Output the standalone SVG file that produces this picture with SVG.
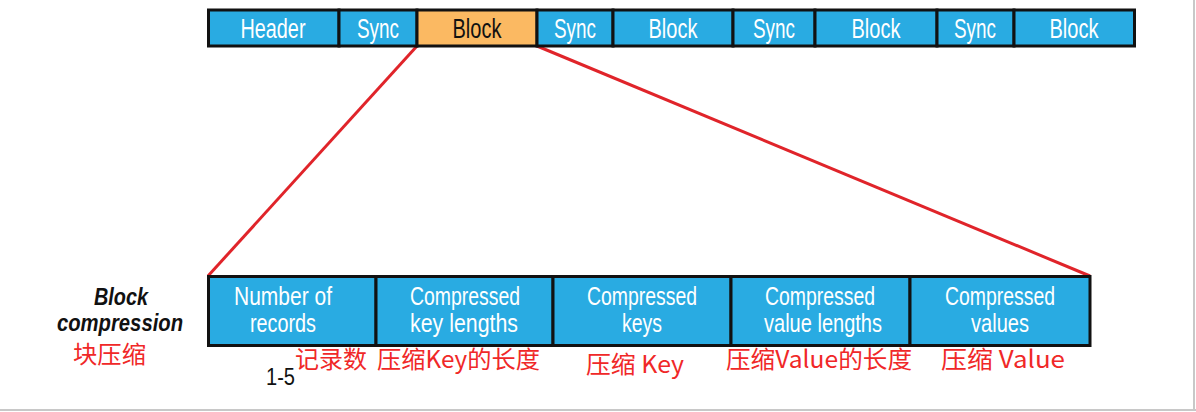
<svg xmlns="http://www.w3.org/2000/svg" width="1196" height="412" viewBox="0 0 1196 412">
<style>
.cell{fill:#29abe2;stroke:#111;stroke-width:3}
.org{fill:#fbb962;stroke:#111;stroke-width:3}
.t{font-family:"Liberation Sans",Arial,sans-serif;font-size:27px;fill:#fff;text-anchor:middle}
.b{font-size:25px}
.tb{fill:#111}
.red{font-family:"Noto Sans CJK SC","DejaVu Sans",sans-serif;font-size:24px;fill:#f02828}
.lbl{font-family:"Liberation Sans",Arial,sans-serif;font-size:24px;font-weight:bold;font-style:italic;fill:#111;text-anchor:middle}
.conn{stroke:#e0242a;stroke-width:3;fill:none}
</style>
<rect x="0" y="0" width="1196" height="412" fill="#fff"/>
<line x1="1194" y1="0" x2="1194" y2="410" stroke="#c8c8c8" stroke-width="2"/>
<line x1="0" y1="410" x2="1196" y2="410" stroke="#c8c8c8" stroke-width="2"/>
<g id="connectors">
<line class="conn" x1="417" y1="46" x2="208" y2="276"/>
<line class="conn" x1="537" y1="46" x2="1090" y2="276"/>
</g>
<g id="top-bar">
<g id="top-header"><rect class="cell" x="208.5" y="10" width="130.5" height="36"/><text class="t" x="273" y="38" textLength="65" lengthAdjust="spacingAndGlyphs">Header</text></g>
<g id="top-sync1"><rect class="cell" x="339" y="10" width="78" height="36"/><text class="t" x="378" y="38" textLength="42" lengthAdjust="spacingAndGlyphs">Sync</text></g>
<g id="top-block1"><rect class="org" x="417" y="10" width="120" height="36"/><text class="t tb" x="477" y="38" textLength="49" lengthAdjust="spacingAndGlyphs">Block</text></g>
<g id="top-sync2"><rect class="cell" x="537" y="10" width="76" height="36"/><text class="t" x="575" y="38" textLength="42" lengthAdjust="spacingAndGlyphs">Sync</text></g>
<g id="top-block2"><rect class="cell" x="613" y="10" width="120" height="36"/><text class="t" x="673" y="38" textLength="49" lengthAdjust="spacingAndGlyphs">Block</text></g>
<g id="top-sync3"><rect class="cell" x="733" y="10" width="82" height="36"/><text class="t" x="774" y="38" textLength="42" lengthAdjust="spacingAndGlyphs">Sync</text></g>
<g id="top-block3"><rect class="cell" x="815" y="10" width="122" height="36"/><text class="t" x="876" y="38" textLength="49" lengthAdjust="spacingAndGlyphs">Block</text></g>
<g id="top-sync4"><rect class="cell" x="937" y="10" width="77" height="36"/><text class="t" x="975" y="38" textLength="42" lengthAdjust="spacingAndGlyphs">Sync</text></g>
<g id="top-block4"><rect class="cell" x="1014" y="10" width="120.5" height="36"/><text class="t" x="1074" y="38" textLength="49" lengthAdjust="spacingAndGlyphs">Block</text></g>
</g>
<g id="block-compression-label">
<text class="lbl" x="121" y="305" textLength="54" lengthAdjust="spacingAndGlyphs">Block</text>
<text class="lbl" x="120" y="331" textLength="126" lengthAdjust="spacingAndGlyphs">compression</text>
<text class="red" x="73" y="363" textLength="73" lengthAdjust="spacingAndGlyphs">块压缩</text>
</g>
<g id="bottom-bar">
<g id="b-records"><rect class="cell" x="208.5" y="276.5" width="167.5" height="69"/><text class="t b" x="283" y="305" textLength="98" lengthAdjust="spacingAndGlyphs">Number of</text><text class="t b" x="283" y="332" textLength="66" lengthAdjust="spacingAndGlyphs">records</text></g>
<g id="b-keylen"><rect class="cell" x="376" y="276.5" width="177" height="69"/><text class="t b" x="465" y="305" textLength="110" lengthAdjust="spacingAndGlyphs">Compressed</text><text class="t b" x="464" y="332" textLength="108" lengthAdjust="spacingAndGlyphs">key lengths</text></g>
<g id="b-keys"><rect class="cell" x="553" y="276.5" width="178" height="69"/><text class="t b" x="642" y="305" textLength="110" lengthAdjust="spacingAndGlyphs">Compressed</text><text class="t b" x="642" y="332" textLength="40" lengthAdjust="spacingAndGlyphs">keys</text></g>
<g id="b-vallen"><rect class="cell" x="731" y="276.5" width="179" height="69"/><text class="t b" x="820" y="305" textLength="110" lengthAdjust="spacingAndGlyphs">Compressed</text><text class="t b" x="823" y="332" textLength="118" lengthAdjust="spacingAndGlyphs">value lengths</text></g>
<g id="b-vals"><rect class="cell" x="910" y="276.5" width="180" height="69"/><text class="t b" x="1000" y="305" textLength="110" lengthAdjust="spacingAndGlyphs">Compressed</text><text class="t b" x="1000" y="332" textLength="58" lengthAdjust="spacingAndGlyphs">values</text></g>
</g>
<g id="annotations">
<text class="red" x="295" y="368" textLength="72" lengthAdjust="spacingAndGlyphs">记录数</text>
<text class="red" x="377" y="368" textLength="163" lengthAdjust="spacingAndGlyphs">压缩Key的长度</text>
<text class="red" x="586" y="373" textLength="98" lengthAdjust="spacingAndGlyphs">压缩 Key</text>
<text class="red" x="726" y="368" textLength="186" lengthAdjust="spacingAndGlyphs">压缩Value的长度</text>
<text class="red" x="941" y="368" textLength="124" lengthAdjust="spacingAndGlyphs">压缩 Value</text>
<text x="266" y="385" font-family="Liberation Sans,Arial,sans-serif" font-size="24" fill="#111" textLength="29" lengthAdjust="spacingAndGlyphs">1-5</text>
</g>
</svg>
